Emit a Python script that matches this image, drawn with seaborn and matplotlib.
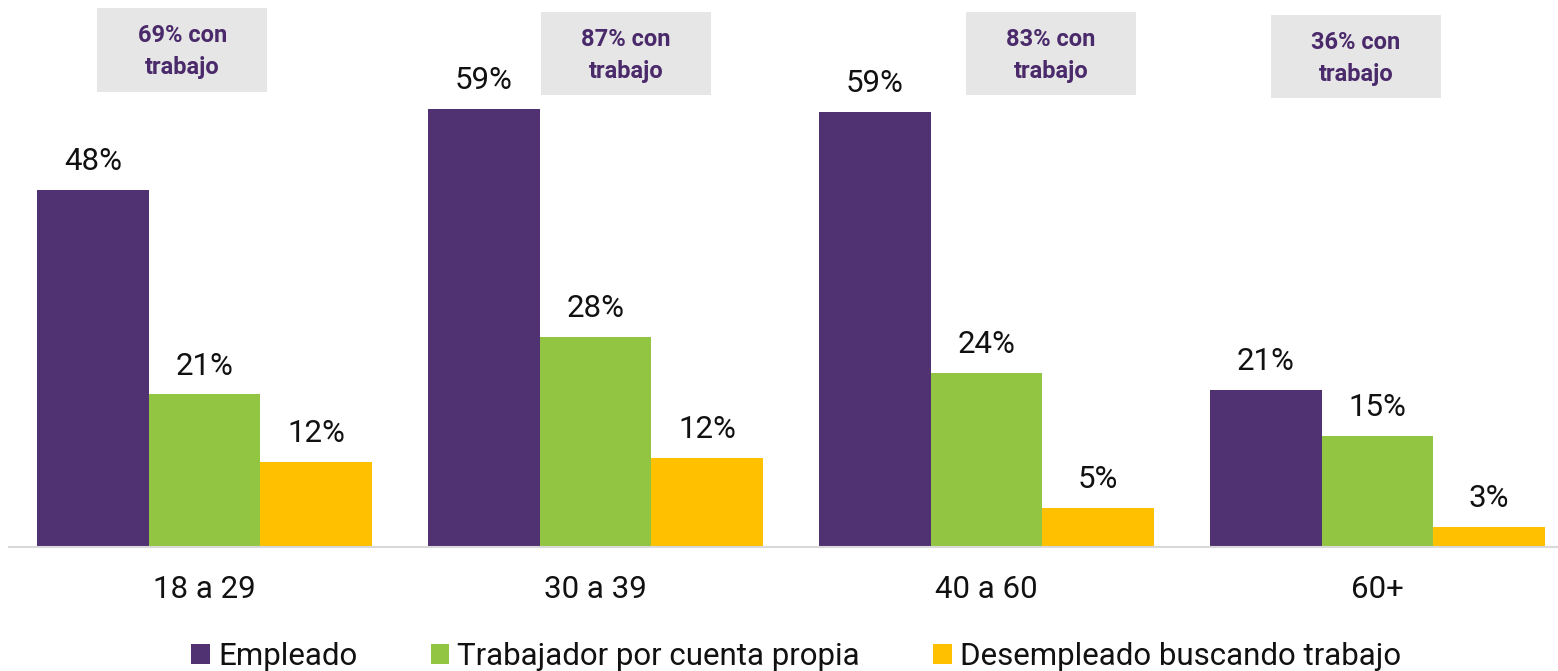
import matplotlib
matplotlib.use("Agg")
import matplotlib.pyplot as plt
from matplotlib.patches import Rectangle
import pandas as pd
import seaborn as sns

# data
grupos = ["18 a 29", "30 a 39", "40 a 60", "60+"]
series = ["Empleado", "Trabajador por cuenta propia", "Desempleado buscando trabajo"]
empleado = [48.0, 58.9, 58.5, 21.1]
cuenta_propia = [20.5, 28.2, 23.4, 14.9]
desempleado = [11.4, 12.0, 5.2, 2.7]
etiquetas = [
    ["48%", "59%", "59%", "21%"],
    ["21%", "28%", "24%", "15%"],
    ["12%", "12%", "5%", "3%"],
]
con_trabajo = ["69% con\ntrabajo", "87% con\ntrabajo", "83% con\ntrabajo", "36% con\ntrabajo"]

colores = ["#503272", "#92C642", "#FFC000"]

df = pd.DataFrame({
    "grupo": grupos * 3,
    "serie": [s for s in series for _ in grupos],
    "valor": empleado + cuenta_propia + desempleado,
})

sns.set_style("white")
plt.rcParams["font.family"] = ["Roboto", "DejaVu Sans"]

fig = plt.figure(figsize=(15.58, 6.71), dpi=100)
ax = fig.add_axes([9 / 1558, 124 / 671, 1 - 9 / 1558, 1 - 124 / 671])

sns.barplot(
    data=df, x="grupo", y="valor", hue="serie",
    order=grupos, hue_order=series, palette=colores,
    width=0.857, gap=0, saturation=1, errorbar=None, ax=ax,
    linewidth=0,
)

for cont, labs in zip(ax.containers, etiquetas):
    ax.bar_label(cont, labels=labs, padding=10, fontsize=22.5, color="#111111")

ax.set_xlim(-0.5, 3.462)
ax.set_ylim(0, 73.5)
ax.set_xlabel("")
ax.set_ylabel("")
ax.set_yticks([])
ax.tick_params(axis="x", length=0, pad=20, labelsize=22.5, labelcolor="#111111")

for s in ["top", "left", "right"]:
    ax.spines[s].set_visible(False)
ax.spines["bottom"].set_color("#D9D9D9")
ax.spines["bottom"].set_linewidth(1.5)

# annotation boxes ("% con trabajo")
desplaz = [(-0.057, 66.8), (1.078 - 1, 66.3), (2.165 - 2, 66.3), (2.945 - 3, 65.9)]
bw, bh = 0.435, 11.2
for i, (txt, (dx, yc)) in enumerate(zip(con_trabajo, desplaz)):
    xc = i + dx
    ax.add_patch(Rectangle((xc - bw / 2, yc - bh / 2), bw, bh,
                           facecolor="#E6E6E6", edgecolor="none", clip_on=False, zorder=3))
    ax.text(xc, yc - 0.2, txt, ha="center", va="center", fontsize=17, fontweight="bold",
            color="#4A2A6A", linespacing=1.5, zorder=4)

leg = ax.legend(
    loc="center", bbox_to_anchor=(0.511, 0.021), bbox_transform=fig.transFigure,
    ncol=3, frameon=False, fontsize=22.5, handlelength=0.6, handleheight=0.6,
    handletextpad=0.25, columnspacing=2.35, borderaxespad=0,
)
for t in leg.get_texts():
    t.set_color("#111111")

fig.savefig("out.png", dpi=100)
